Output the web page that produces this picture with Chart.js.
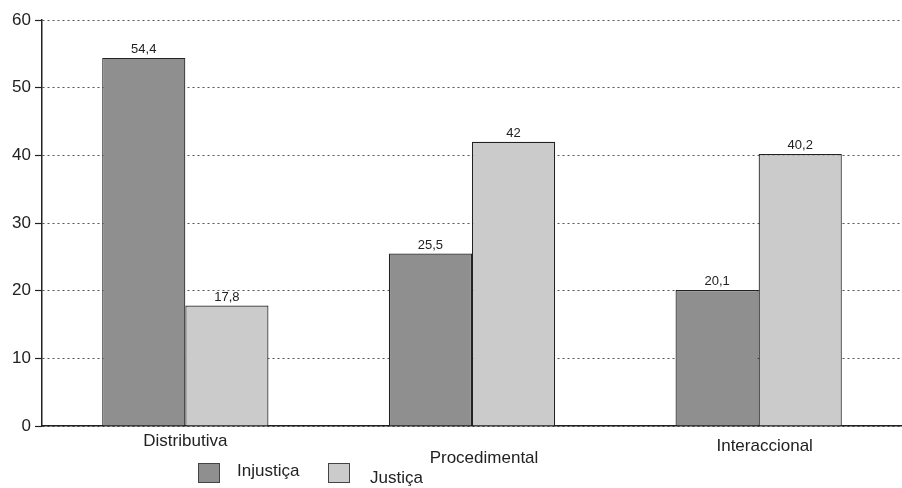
<!DOCTYPE html>
<html>
<head>
<meta charset="utf-8">
<script src="https://cdn.jsdelivr.net/npm/chart.js@4/dist/chart.umd.min.js"></script>
<style>
  html, body { margin: 0; padding: 0; background: #fff; }
  #wrap { width: 902px; height: 488px; }
</style>
</head>
<body>
<div id="wrap"><canvas id="chart"></canvas></div>
<script>
// data
const categories = ["Distributiva", "Procedimental", "Interaccional"];
const injustica = [54.4, 25.5, 20.1];
const justica = [17.8, 42, 40.2];
const seriesNames = ["Injustiça", "Justiça"];
const yTicks = [0, 10, 20, 30, 40, 50, 60];

const FONT = "'Liberation Sans', Arial, sans-serif";
const colors = ["#8f8f8f", "#cbcbcb"];

// numbers on top of the bars, with comma decimals
const valueLabels = {
  id: "valueLabels",
  afterDatasetsDraw(chart) {
    const ctx = chart.ctx;
    ctx.save();
    ctx.font = "13px " + FONT;
    ctx.fillStyle = "#222";
    ctx.textAlign = "center";
    ctx.textBaseline = "bottom";
    chart.data.datasets.forEach((ds, i) => {
      chart.getDatasetMeta(i).data.forEach((bar, j) => {
        ctx.fillText(String(ds.data[j]).replace(".", ","), bar.x, bar.y - 2);
      });
    });
    ctx.restore();
  }
};

// category names (staggered like the scan) and legend underneath
const bottomText = {
  id: "bottomText",
  afterDraw(chart) {
    const ctx = chart.ctx;
    const x = chart.scales.x;
    const base = chart.chartArea.bottom;
    const drops = [15, 32, 20];
    const shifts = [0, 12, 6];
    ctx.save();
    ctx.font = "17px " + FONT;
    ctx.fillStyle = "#222";
    ctx.textAlign = "center";
    ctx.textBaseline = "middle";
    categories.forEach((c, i) => {
      ctx.fillText(c, x.getPixelForValue(i) + shifts[i], base + drops[i]);
    });

    // legend
    const items = [
      { box: 198, text: 237, ty: 471 },
      { box: 328, text: 370, ty: 478 }
    ];
    ctx.textAlign = "left";
    items.forEach((it, i) => {
      ctx.fillStyle = colors[i];
      ctx.fillRect(it.box, 463, 21, 19);
      ctx.strokeStyle = "#444";
      ctx.lineWidth = 1;
      ctx.strokeRect(it.box + 0.5, 463.5, 21, 19);
      ctx.fillStyle = "#222";
      ctx.fillText(seriesNames[i], it.text, it.ty);
    });
    ctx.restore();
  }
};

new Chart(document.getElementById("chart"), {
  type: "bar",
  data: {
    labels: categories,
    datasets: [
      { label: seriesNames[0], data: injustica, backgroundColor: colors[0], borderColor: "#222", borderWidth: 1.2 },
      { label: seriesNames[1], data: justica, backgroundColor: colors[1], borderColor: "#222", borderWidth: 1.2 }
    ]
  },
  options: {
    responsive: true,
    maintainAspectRatio: false,
    animation: false,
    layout: { padding: { top: 20, right: 0, bottom: 54, left: 0 } },
    plugins: {
      legend: { display: false },
      tooltip: { enabled: false }
    },
    datasets: { bar: { categoryPercentage: 0.58, barPercentage: 1 } },
    scales: {
      x: {
        grid: { display: false },
        ticks: { display: false },
        border: { display: true, color: "#222", width: 1.5 }
      },
      y: {
        min: 0,
        max: 60,
        afterBuildTicks(scale) {
          scale.ticks = yTicks.map(v => ({ value: v }));
        },
        afterFit(scale) { scale.width = 42; },
        ticks: { color: "#222", font: { size: 17, family: FONT }, padding: 4 },
        grid: { color: "#555", lineWidth: 1, tickLength: 7, tickColor: "#222", tickWidth: 1.2 },
        border: { display: true, color: "#222", width: 1.5, dash: [2, 3] }
      }
    }
  },
  plugins: [valueLabels, bottomText]
});
</script>
</body>
</html>
